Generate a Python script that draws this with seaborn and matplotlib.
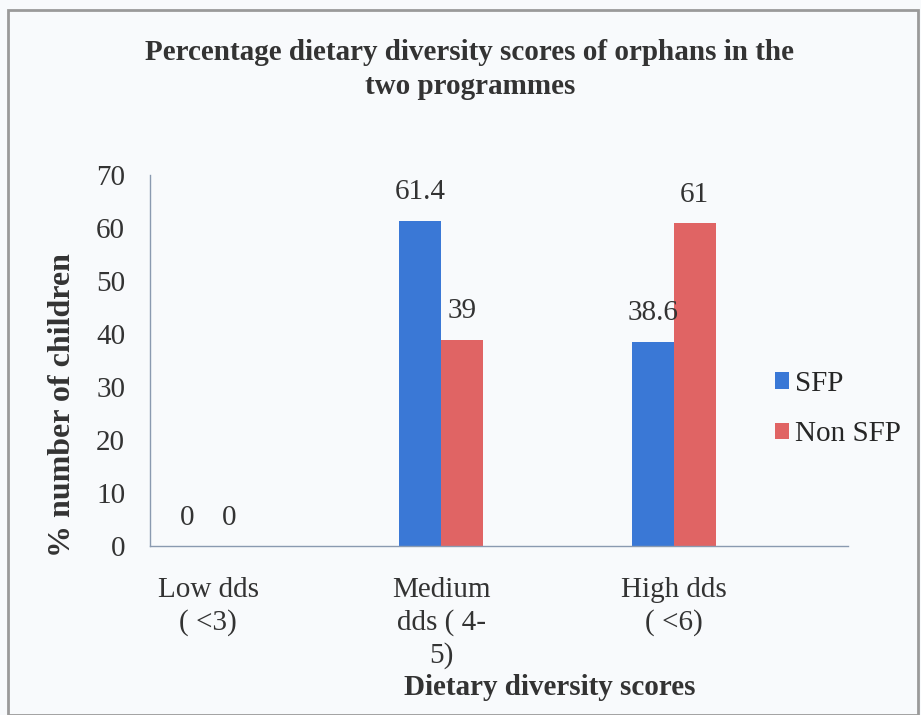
import pandas as pd
import numpy as np
import matplotlib
matplotlib.use('Agg')
import matplotlib.pyplot as plt
import seaborn as sns
from matplotlib.patches import Rectangle

# data
categories = ['Low dds\n( <3)', 'Medium\ndds ( 4-\n5)', 'High dds\n( <6)']
sfp        = [0, 61.4, 38.6]
non_sfp    = [0, 39, 61]
groups     = ['SFP', 'Non SFP']
yticks     = [0, 10, 20, 30, 40, 50, 60, 70]

df = pd.DataFrame({
    'category': categories * 2,
    'value':    sfp + non_sfp,
    'group':    [groups[0]] * 3 + [groups[1]] * 3,
})

sns.set_style('white')
plt.rcParams['font.family'] = ['Liberation Serif', 'DejaVu Serif']

fig = plt.figure(figsize=(9.21, 7.15), dpi=100)
fig.patch.set_facecolor('#f8fafc')
ax = fig.add_axes([0.163, 0.236, 0.758, 0.519])
ax.set_facecolor('#f8fafc')

palette = {'SFP': '#3a78d6', 'Non SFP': '#e06464'}
sns.barplot(data=df, x='category', y='value', hue='group', palette=palette,
            width=0.36, gap=0, ax=ax, saturation=1, linewidth=0)

for cont in ax.containers:
    labels = [f'{v:g}' for v in cont.datavalues]
    ax.bar_label(cont, labels=labels, padding=11, fontsize=21, color='#333333')

ax.set_ylim(0, 70)
ax.set_xlim(-0.25, 2.75)
ax.set_yticks(yticks)
ax.tick_params(axis='both', length=0, labelsize=21, colors='#333333')
ax.tick_params(axis='y', pad=18)
ax.tick_params(axis='x', pad=22)
for lbl in ax.get_xticklabels():
    lbl.set_linespacing(1.3)
for s in ['top', 'right']:
    ax.spines[s].set_visible(False)
for s in ['left', 'bottom']:
    ax.spines[s].set_color('#8a9ab0')
    ax.spines[s].set_linewidth(1)
ax.set_xlabel('')
ax.set_ylabel('')

leg = ax.legend(loc='center left', bbox_to_anchor=(0.857, 0.37), frameon=False,
                fontsize=21, handlelength=0.5, handleheight=0.5, handletextpad=0.2,
                labelspacing=0.85)
for h in leg.legend_handles:
    h.set_linewidth(0)

fig.text(0.51, 0.903, 'Percentage dietary diversity scores of orphans in the\ntwo programmes',
         ha='center', va='center', fontsize=21, fontweight='bold',
         color='#333333', linespacing=1.3)
fig.text(0.068, 0.434, '% number of children', rotation=90, ha='center',
         va='center', fontsize=23, fontweight='bold', color='#333333')
fig.text(0.597, 0.038, 'Dietary diversity scores', ha='center', va='center',
         fontsize=21, fontweight='bold', color='#333333')

# outer frame of the original image
fig.patches.append(Rectangle((0.009, 0.0), 0.988, 0.986, transform=fig.transFigure,
                             fill=False, edgecolor='#9a9a9a', linewidth=2))

plt.savefig('out.png', dpi=100)
plt.close()
